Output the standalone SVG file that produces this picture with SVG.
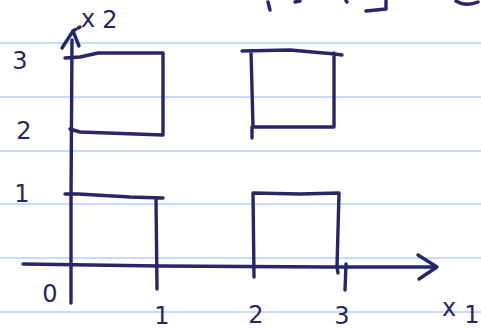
<svg xmlns="http://www.w3.org/2000/svg" width="481" height="331" viewBox="0 0 481 331">
<style>
.rule{stroke:#c9dcf7;stroke-width:2.2;fill:none}
.ink{stroke:#262668;stroke-width:3.4;fill:none;stroke-linecap:round;stroke-linejoin:round}
.lbl{font-family:"DejaVu Sans","Liberation Sans",sans-serif;fill:#262668;font-size:24px}
</style>
<rect width="481" height="331" fill="#ffffff"/>
<g id="rules">
<line class="rule" x1="0" y1="43" x2="481" y2="43"/>
<line class="rule" x1="0" y1="97" x2="481" y2="97"/>
<line class="rule" x1="0" y1="151" x2="481" y2="151"/>
<line class="rule" x1="0" y1="204" x2="481" y2="204"/>
<line class="rule" x1="0" y1="258" x2="481" y2="258"/>
<line class="rule" x1="0" y1="312" x2="481" y2="312"/>
</g>
<g id="topfragments">
<path class="ink" d="M268 2 L270 10"/>
<path class="ink" d="M295 2 L300 1"/>
<path class="ink" d="M346 1 L347 2"/>
<path class="ink" d="M366 11 L386 9 L386 1"/>
<path class="ink" d="M456 1 Q466 7 478 2"/>
</g>
<g id="connectors">
<path id="x-axis" class="ink" d="M23 264 L160 266 L330 267 L433 267"/>
<path class="ink" d="M418 255 L437 267 L419 279"/>
<path id="y-axis" class="ink" d="M71 303 L71 200 L72 40"/>
<path class="ink" d="M62 48 L73 31 L79 46"/>
<path class="ink" d="M73 31 L80 27" stroke-dasharray="3 3"/>
</g>
<g id="rect-top-left">
<path class="ink" d="M65 58 L80 57 L98 53 L163 53 L163 135 L80 132 L70 129"/>
</g>
<g id="rect-top-right">
<path class="ink" d="M242 51 L290 50 L335 54 L342 55 M334 53 L334 127 L253 127 L251 51 M252 127 L252 138"/>
</g>
<g id="rect-bottom-left">
<path class="ink" d="M65 194 L78 194 L130 197 L163 198 M156 198 L157 289"/>
</g>
<g id="rect-bottom-right">
<path class="ink" d="M253 193 L300 194 L339 193 M339 193 L337 267 L338 273 M346 264 L345 290 M253 193 L254 277"/>
</g>
<g id="labels">
<text class="lbl" x="20" y="69" text-anchor="middle">3</text>
<text class="lbl" x="24" y="139" text-anchor="middle">2</text>
<text class="lbl" x="22" y="202" text-anchor="middle">1</text>
<text class="lbl" x="50" y="302" text-anchor="middle">0</text>
<text class="lbl" x="162" y="324" text-anchor="middle" font-size="20">1</text>
<text class="lbl" x="256" y="323" text-anchor="middle">2</text>
<text class="lbl" x="342" y="324" text-anchor="middle">3</text>
<text class="lbl" x="449" y="316" text-anchor="middle">x</text>
<text class="lbl" x="472" y="323" text-anchor="middle" font-size="15">1</text>
<text class="lbl" x="88" y="27" text-anchor="middle" font-size="22">x</text>
<text class="lbl" x="110" y="28" text-anchor="middle" font-size="14">2</text>
</g>
</svg>
